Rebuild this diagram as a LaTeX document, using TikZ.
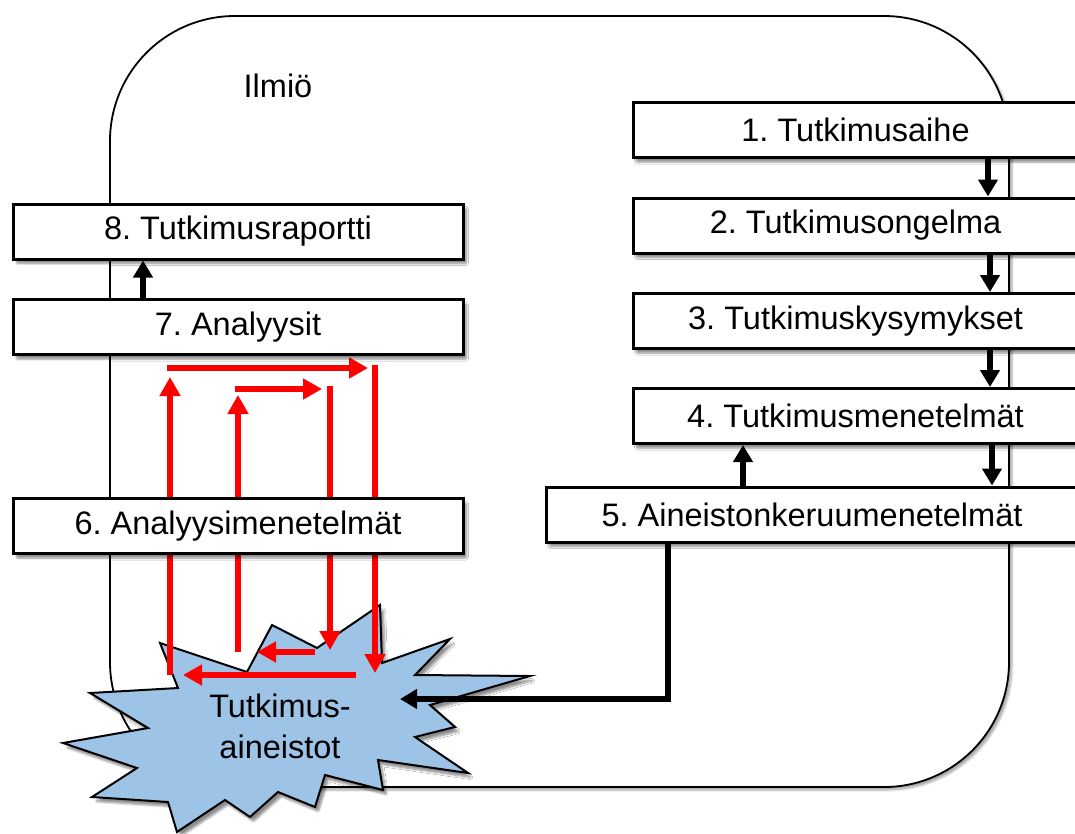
\documentclass[tikz,border=0pt]{standalone}
\usepackage{fontspec}
\setmainfont{Liberation Sans}
\usetikzlibrary{arrows.meta,shadows.blur,calc}
\frenchspacing

\begin{document}
\begin{tikzpicture}[x=1pt,y=-1pt,
  label font/.style={font=\fontsize{32.5}{41}\selectfont},
  softshadow/.style={blur shadow={shadow xshift=3.5pt, shadow yshift=-4.5pt,
      shadow blur steps=6, shadow blur extra rounding=1pt, shadow opacity=45}},
  stepbox/.style={draw=black, line width=3pt, fill=white, minimum height=55pt,
      inner sep=0pt, label font, softshadow},
  frame/.style={draw=black, line width=1.8pt, fill=white, rounded corners=125pt,
      blur shadow={shadow xshift=3pt, shadow yshift=-3pt, shadow blur steps=6, shadow opacity=35}},
  burstshape/.style={draw=black, line width=2pt, fill=burstblue, line join=miter, softshadow},
  flow/.style={draw=black, line width=5.5pt, -{Triangle[length=17pt,width=19pt]}},
  loop/.style={draw=red, line width=6.5pt, -{Triangle[length=19pt,width=20pt]}}
]
\definecolor{burstblue}{RGB}{157,195,230}
\useasboundingbox (0,0) rectangle (1075,833);

% the phenomenon: large rounded frame
\path[frame] (110,16) rectangle (1009,787);
\node[label font] (ilmio) at (278,86) {Ilmiö};

% research data: starburst
\path[burstshape]
  (160,643) -- (247,672) -- (272,625) -- (317,648) -- (380,605) -- (382,663)
  -- (450,639) -- (415,675) -- (530,676) -- (430,705) -- (455,727) -- (415,737)
  -- (468,773) -- (378,760) -- (383,790) -- (325,775) -- (315,807) -- (278,792)
  -- (250,817) -- (225,800) -- (177,832) -- (168,802) -- (92,797) -- (137,768)
  -- (63,743) -- (148,728) -- (90,693) -- (178,688) -- cycle;
\node[label font, align=center] (data) at (280,726) {Tutkimus-\\aineistot};
\coordinate (datain) at (400,699);

% analysis cycles (outer and inner loop)
\coordinate (o1) at (170,675);  \coordinate (o2) at (170,377);
\coordinate (o3) at (167,368);  \coordinate (o4) at (368,368);
\coordinate (o5) at (375,365);  \coordinate (o6) at (375,673);
\coordinate (o7) at (356,675);  \coordinate (o8) at (183,675);
\coordinate (i1) at (238,652);  \coordinate (i2) at (238,395);
\coordinate (i3) at (235,389);  \coordinate (i4) at (322,389);
\coordinate (i5) at (330,386);  \coordinate (i6) at (330,650);
\coordinate (i7) at (315,652);  \coordinate (i8) at (257,652);
\draw[loop] (o1) -- (o2);
\draw[loop] (o3) -- (o4);
\draw[loop] (o5) -- (o6);
\draw[loop] (o7) -- (o8);
\draw[loop] (i1) -- (i2);
\draw[loop] (i3) -- (i4);
\draw[loop] (i5) -- (i6);
\draw[loop] (i7) -- (i8);

% research steps
\node[stepbox, minimum width=445pt] (b1) at (855.5,130) {1. Tutkimusaihe};
\node[stepbox, minimum width=445pt] (b2) at (855.5,225.5) {2. Tutkimusongelma};
\node[stepbox, minimum width=445pt] (b3) at (855.5,321) {3. Tutkimuskysymykset};
\node[stepbox, minimum width=445pt] (b4) at (855.5,416) {4. Tutkimusmenetelmät};
\node[stepbox, minimum width=532pt] (b5) at (812,514.5) {5. Aineistonkeruumenetelmät};
\node[stepbox, minimum width=450pt] (b6) at (238,526) {6. Analyysimenetelmät};
\node[stepbox, minimum width=450pt] (b7) at (238,327) {7. Analyysit};
\node[stepbox, minimum width=450pt] (b8) at (238,231.5) {8. Tutkimusraportti};

% step connectors
\coordinate (xa) at (988,0);
\coordinate (xb) at (990,0);
\coordinate (xc) at (992,0);
\coordinate (xd) at (743,0);
\coordinate (xe) at (143,0);
\coordinate (xf) at (668,0);
\draw[flow] (b1.south -| xa) -- (b2.north -| xa);
\draw[flow] (b2.south -| xb) -- (b3.north -| xb);
\draw[flow] (b3.south -| xb) -- (b4.north -| xb);
\draw[flow] (b4.south -| xc) -- (b5.north -| xc);
\draw[flow] (b5.north -| xd) -- (b4.south -| xd);
\draw[flow] (b7.north -| xe) -- (b8.south -| xe);
\draw[flow] (b5.south -| xf) |- (datain);
\end{tikzpicture}
\end{document}
